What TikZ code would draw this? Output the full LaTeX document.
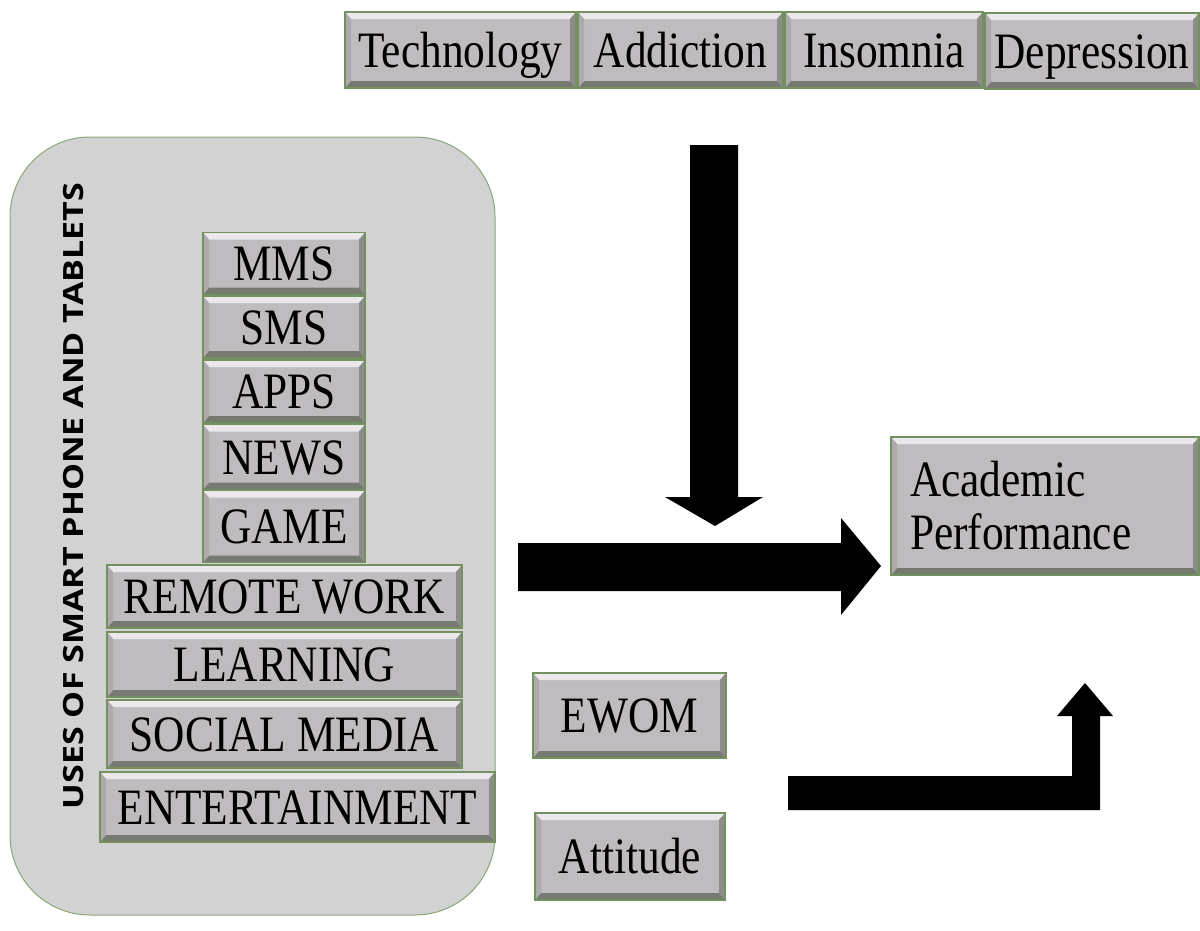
\documentclass[tikz,border=0pt]{standalone}
\usepackage{fontspec}
\setmainfont{Liberation Serif}
\newfontfamily\boxfont[FakeStretch=0.85]{Liberation Serif}
\newfontfamily\labelfont{Open Sans}
\definecolor{panelgray}{RGB}{210,210,210}
\definecolor{paneledge}{RGB}{140,165,120}
\definecolor{boxgray}{RGB}{191,187,190}
\definecolor{boxedge}{RGB}{115,145,95}
\definecolor{bevtop}{RGB}{234,232,234}
\definecolor{bevbot}{RGB}{118,122,112}
\definecolor{bevleft}{RGB}{172,170,171}
\definecolor{bevright}{RGB}{140,140,138}
\tikzset{
  bevelbox/.style={
    draw=boxedge, line width=1.2pt, fill=boxgray, inner sep=0pt,
    font=\boxfont\fontsize{51}{53}\selectfont,
    text height=34pt, text depth=0pt,
    path picture={
      \fill[bevtop] (path picture bounding box.north west) -- (path picture bounding box.north east)
        -- ([xshift=-6pt,yshift=-7pt]path picture bounding box.north east)
        -- ([xshift=6pt,yshift=-7pt]path picture bounding box.north west) -- cycle;
      \fill[bevbot] (path picture bounding box.south west) -- (path picture bounding box.south east)
        -- ([xshift=-6pt,yshift=7pt]path picture bounding box.south east)
        -- ([xshift=6pt,yshift=7pt]path picture bounding box.south west) -- cycle;
      \fill[bevleft] (path picture bounding box.north west) -- ([xshift=6pt,yshift=-7pt]path picture bounding box.north west)
        -- ([xshift=6pt,yshift=7pt]path picture bounding box.south west) -- (path picture bounding box.south west) -- cycle;
      \fill[bevright] (path picture bounding box.north east) -- ([xshift=-6pt,yshift=-7pt]path picture bounding box.north east)
        -- ([xshift=-6pt,yshift=7pt]path picture bounding box.south east) -- (path picture bounding box.south east) -- cycle;
    }},
  blockarrow/.style={fill=black, draw=none}
}
\begin{document}
\begin{tikzpicture}[x=1pt,y=-1pt]
\useasboundingbox[fill=white] (0,0) rectangle (1200,930);

% outer panel for the device uses
\draw[paneledge, fill=panelgray, line width=1pt, rounded corners=80pt] (10,137) rectangle (495,915);
\node[rotate=90, inner sep=0pt, font=\labelfont\bfseries\fontsize{34}{36}\selectfont] (uses) at (74,496)
  {\scalebox{1}[0.82]{USES OF SMART PHONE AND TABLETS}};

% top row of factors
\node[bevelbox, minimum width=231pt, minimum height=76pt] (tech) at (460.5,50) {Technology};
\node[bevelbox, minimum width=205pt, minimum height=76pt] (addict) at (680.5,50) {Addiction};
\node[bevelbox, minimum width=198pt, minimum height=76pt] (insom) at (884,50) {Insomnia};
\node[bevelbox, minimum width=214pt, minimum height=76pt] (depr) at (1092,51) {Depression};

% stacked uses
\node[bevelbox, minimum width=162pt, minimum height=62pt] (mms) at (284,263.5) {MMS};
\node[bevelbox, minimum width=162pt, minimum height=62pt] (sms) at (284,327) {SMS};
\node[bevelbox, minimum width=162pt, minimum height=63pt] (apps) at (284,391.5) {APPS};
\node[bevelbox, minimum width=162pt, minimum height=65pt] (news) at (284,457) {NEWS};
\node[bevelbox, minimum width=162pt, minimum height=72pt] (game) at (284,526.5) {GAME};
\node[bevelbox, minimum width=355pt, minimum height=63pt] (remote) at (284.5,596.5) {REMOTE WORK};
\node[bevelbox, minimum width=355pt, minimum height=65pt] (learn) at (284.5,664.5) {LEARNING};
\node[bevelbox, minimum width=355pt, minimum height=68pt] (social) at (284.5,734) {SOCIAL MEDIA};
\node[bevelbox, minimum width=395pt, minimum height=70pt] (enter) at (297.5,807) {ENTERTAINMENT};

% outcome and moderators
\node[bevelbox, minimum width=308pt, minimum height=138pt, text height=, text depth=,
      align=left, text width=270pt, inner xsep=19pt] (acad) at (1045,506) {Academic\\Performance};
\node[bevelbox, minimum width=193pt, minimum height=85pt] (ewom) at (629.5,715.5) {EWOM};
\node[bevelbox, minimum width=190pt, minimum height=87pt] (att) at (630,856.5) {Attitude};

% block arrows
\fill[blockarrow] (690,145) -- (738,145) -- (738,497) -- (763,497) -- (715,526) -- (665,497) -- (690,497) -- cycle;
\fill[blockarrow] (518,543) -- (841,543) -- (841,518) -- (881,566) -- (841,615) -- (841,591) -- (518,591) -- cycle;
\fill[blockarrow] (788,776) -- (1072,776) -- (1072,716) -- (1057,716) -- (1085,683) -- (1113,716) -- (1100,716)
  -- (1100,810) -- (788,810) -- cycle;
\end{tikzpicture}
\end{document}
